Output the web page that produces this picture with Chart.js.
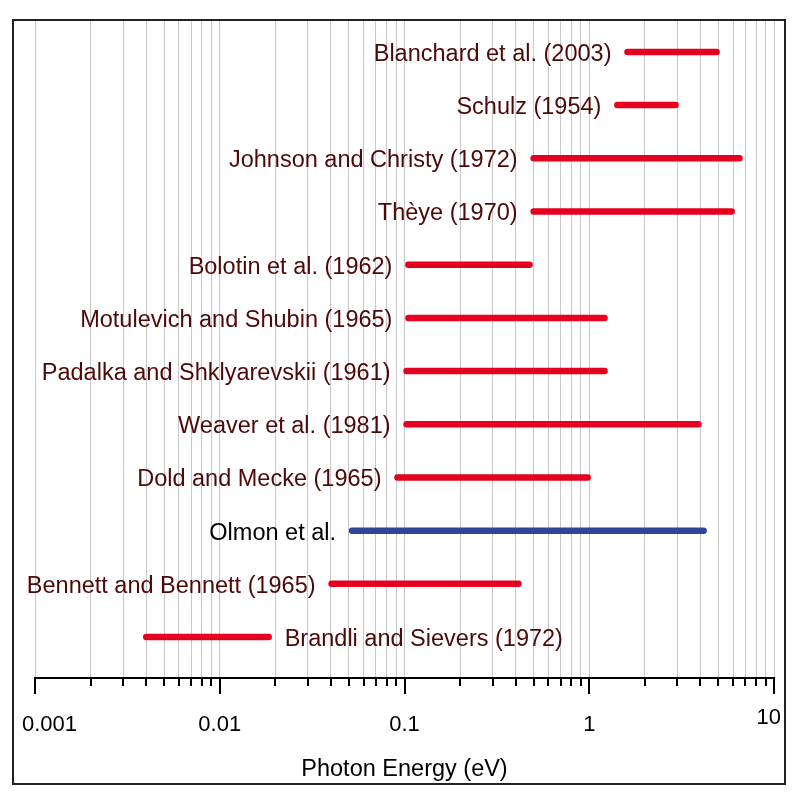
<!DOCTYPE html>
<html>
<head>
<meta charset="utf-8">
<script src="https://cdn.jsdelivr.net/npm/chart.js@4.4.1/dist/chart.umd.min.js"></script>
<style>
  body { margin: 0; background: #fff; }
</style>
</head>
<body>
<canvas id="chart" width="806" height="798"></canvas>
<script>
// rows, bottom to top
var studies = ['Brandli and Sievers (1972)', 'Bennett and Bennett (1965)', 'Olmon et al.',
  'Dold and Mecke (1965)', 'Weaver et al. (1981)', 'Padalka and Shklyarevskii (1961)',
  'Motulevich and Shubin (1965)', 'Bolotin et al. (1962)', 'Thèye (1970)',
  'Johnson and Christy (1972)', 'Schulz (1954)', 'Blanchard et al. (2003)'];
var rangeStart = [0.0040, 0.0403, 0.052, 0.0916, 0.1026, 0.1026, 0.105, 0.105, 0.5, 0.5, 1.42, 1.61];
var rangeEnd   = [0.0184, 0.414, 4.16, 0.98, 3.90, 1.21, 1.21, 0.475, 5.9, 6.5, 2.93, 4.89];
var highlight = 'Olmon et al.';

var majorTicks = [0.001, 0.01, 0.1, 1, 10];
var tickLabels = ['0.001', '0.01', '0.1', '1', '10'];

var RED = '#e6001f', BLUE = '#2f4597', TEXT = '#4d0808';
var FONT = '"Liberation Sans", Arial, Helvetica, sans-serif';

var datasets = studies.map(function (name, i) {
  var isOurs = name == highlight;
  return {
    label: name,
    data: [{ x: rangeStart[i], y: i + 1 }, { x: rangeEnd[i], y: i + 1 }],
    borderColor: isOurs ? BLUE : RED,
    borderWidth: 6.5,
    borderCapStyle: 'round',
    pointRadius: 0,
    fill: false
  };
});

// all tick values: 1..9 in each decade plus the last one
var allTicks = [];
majorTicks.slice(0, -1).forEach(function (d) {
  for (var k = 1; k < 10; k++) allTicks.push(+(d * k).toPrecision(3));
});
allTicks.push(majorTicks[majorTicks.length - 1]);

var decor = {
  id: 'decor',
  afterDatasetsDraw: function (chart) {
    var ctx = chart.ctx, xs = chart.scales.x, ys = chart.scales.y, area = chart.chartArea;
    ctx.save();

    // study labels
    ctx.font = '23.5px ' + FONT;
    ctx.textBaseline = 'alphabetic';
    studies.forEach(function (name, i) {
      var y = ys.getPixelForValue(i + 1) + 9;
      ctx.fillStyle = name == highlight ? '#000' : TEXT;
      if (i == 0) {
        ctx.textAlign = 'left';
        ctx.fillText(name, xs.getPixelForValue(rangeEnd[i]) + 16, y);
      } else {
        ctx.textAlign = 'right';
        ctx.fillText(name, xs.getPixelForValue(rangeStart[i]) - 16, y);
      }
    });

    // x axis line and ticks
    var y0 = area.bottom;
    ctx.strokeStyle = '#000';
    ctx.lineWidth = 2;
    ctx.beginPath();
    ctx.moveTo(xs.getPixelForValue(majorTicks[0]) - 1, y0);
    ctx.lineTo(xs.getPixelForValue(majorTicks[majorTicks.length - 1]) + 1, y0);
    allTicks.forEach(function (v) {
      var px = Math.round(xs.getPixelForValue(v));
      var major = majorTicks.indexOf(v) >= 0;
      ctx.moveTo(px, y0);
      ctx.lineTo(px, y0 + (major ? 16 : 8));
    });
    ctx.stroke();

    // tick labels
    ctx.fillStyle = '#000';
    ctx.font = '22px ' + FONT;
    ctx.textBaseline = 'middle';
    majorTicks.forEach(function (v, i) {
      var px = xs.getPixelForValue(v);
      if (i == 0) {
        ctx.textAlign = 'left';
        ctx.fillText(tickLabels[i], 22, 725);
      } else if (i == majorTicks.length - 1) {
        ctx.textAlign = 'right';
        ctx.fillText(tickLabels[i], px + 7, 718);
      } else {
        ctx.textAlign = 'center';
        ctx.fillText(tickLabels[i], px, 725);
      }
    });

    // axis title
    ctx.font = '23.5px ' + FONT;
    ctx.textAlign = 'center';
    ctx.textBaseline = 'alphabetic';
    ctx.fillText('Photon Energy (eV)', (area.left + area.right) / 2, 776);

    // frame
    ctx.strokeStyle = '#222';
    ctx.lineWidth = 2;
    ctx.strokeRect(13, 20, 772, 764);
    ctx.restore();
  }
};

new Chart(document.getElementById('chart'), {
  type: 'line',
  data: { datasets: datasets },
  options: {
    responsive: false,
    animation: false,
    devicePixelRatio: 1,
    layout: { padding: { left: 35, right: 32, top: 20, bottom: 120 } },
    plugins: { legend: { display: false }, tooltip: { enabled: false } },
    scales: {
      x: {
        type: 'logarithmic',
        min: majorTicks[0],
        max: majorTicks[majorTicks.length - 1],
        afterBuildTicks: function (s) { s.ticks = allTicks.map(function (v) { return { value: v }; }); },
        afterFit: function (s) { s.height = 0; },
        ticks: { display: false },
        grid: { color: '#c8c8c8', lineWidth: 1, drawTicks: false },
        border: { display: false }
      },
      y: {
        type: 'linear',
        min: 0.23,
        max: 12.6,
        display: false
      }
    }
  },
  plugins: [decor]
});
</script>
</body>
</html>
